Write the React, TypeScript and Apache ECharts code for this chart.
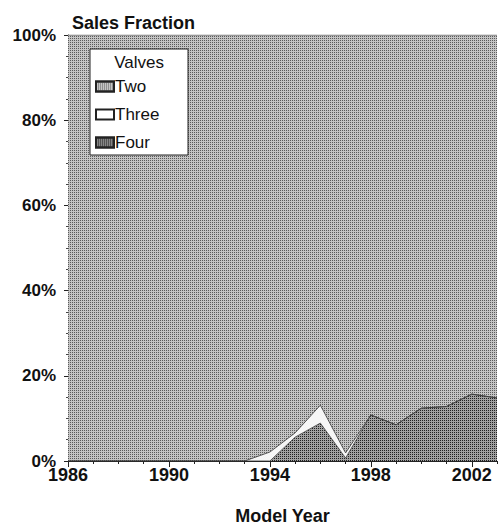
import React, { useEffect, useRef } from "react";
import * as echarts from "echarts";

const years = ["1986","1987","1988","1989","1990","1991","1992","1993","1994","1995","1996","1997","1998","1999","2000","2001","2002","2003"];
const fourValves = [0, 0, 0, 0, 0, 0, 0, 0, 0, 5.6, 8.9, 0.7, 10.8, 8.5, 12.4, 12.8, 15.7, 14.8];
const threeValves = [0, 0, 0, 0, 0, 0, 0, 0, 2.1, 1.0, 4.2, 1.2, 0, 0, 0, 0, 0, 0];
const twoValves = years.map((_, i) => +(100 - fourValves[i] - threeValves[i]).toFixed(1));
const yTicks = [0, 20, 40, 60, 80, 100];

const FONT = "'Liberation Sans', Arial, sans-serif";

export default function App() {
  const ref = useRef<HTMLDivElement>(null);
  useEffect(() => {
    document.body.style.margin = "0";
    if (!ref.current) return;
    const chart = echarts.init(ref.current, null, { renderer: "svg" });
    const lineStyle = { color: "#3a3a3a", width: 0.8 };
    const twoDecal = { symbol: "rect", symbolSize: 1, color: "#5a5a5a", dashArrayX: [1, 1], dashArrayY: [1, 1], rotation: 0 };
    const fourDecal = { symbol: "rect", symbolSize: 1, color: "#202020", dashArrayX: [1, 1], dashArrayY: [1, 1], rotation: 0 };
    chart.setOption({
      animation: false,
      backgroundColor: "#ffffff",
      textStyle: { fontFamily: FONT },
      title: {
        text: "Sales Fraction",
        left: 67,
        top: 9,
        textStyle: { fontFamily: FONT, fontWeight: "bold", fontSize: 18, color: "#111" },
      },
      grid: { left: 68, right: 2, top: 35, bottom: 64, containLabel: false, outerBoundsMode: "none" },
      legend: {
        data: ["Two", "Three", "Four"],
        orient: "vertical",
        left: 95,
        top: 78,
        padding: 0,
        z: 20,
        itemGap: 11,
        itemWidth: 18,
        itemHeight: 10,
        textStyle: { fontFamily: FONT, fontSize: 17, color: "#111", padding: [0, 0, 0, -4] },
        icon: "rect",
      },
      graphic: [
        {
          type: "rect",
          shape: { x: 90, y: 49, width: 98, height: 106 },
          style: { fill: "#ffffff", stroke: "#222", lineWidth: 1 },
          z: 10,
        },
        {
          type: "text",
          x: 139,
          y: 62,
          style: { text: "Valves", fontFamily: FONT, fontSize: 17, fill: "#111", textAlign: "center", textVerticalAlign: "middle" },
          z: 20,
        },
      ],
      xAxis: [
        {
          type: "category",
          data: years,
          boundaryGap: false,
          axisLine: { show: true, lineStyle: { color: "#222", width: 1 } },
          axisTick: { show: true, interval: 0, length: 3, lineStyle: { color: "#222" } },
          axisLabel: { interval: 3, margin: 7, lineHeight: 13, fontFamily: FONT, fontWeight: "bold", fontSize: 18, color: "#111" },
          splitLine: { show: false },
          name: "Model Year",
          nameLocation: "middle",
          nameGap: 47,
          nameTextStyle: { fontFamily: FONT, fontWeight: "bold", fontSize: 18, lineHeight: 16, color: "#111" },
        },
        {
          type: "category",
          data: years,
          boundaryGap: false,
          position: "bottom",
          axisLine: { show: false },
          axisTick: { show: true, interval: 3, length: 6, lineStyle: { color: "#222" } },
          axisLabel: { show: false },
          splitLine: { show: false },
        },
      ],
      yAxis: {
        type: "value",
        min: 0,
        max: 100,
        interval: 20,
        axisLine: { show: true, lineStyle: { color: "#222", width: 1 } },
        axisTick: { show: true, length: 4, lineStyle: { color: "#222" } },
        minorTick: { show: true, splitNumber: 4, length: 2, lineStyle: { color: "#444" } },
        splitLine: { show: false },
        axisLabel: {
          formatter: (v: number) => (yTicks.includes(v) ? v + "%" : ""),
          margin: 12,
          lineHeight: 10,
          fontFamily: FONT,
          fontWeight: "bold",
          fontSize: 17,
          color: "#111",
        },
      },
      series: [
        {
          name: "Four",
          type: "line",
          stack: "valves",
          data: fourValves,
          symbol: "none",
          lineStyle,
          areaStyle: { color: "#a0a0a0", opacity: 1, decal: fourDecal },
          itemStyle: { color: "#858585", borderColor: "#222", borderWidth: 1, decal: fourDecal },
        },
        {
          name: "Three",
          type: "line",
          stack: "valves",
          data: threeValves,
          symbol: "none",
          lineStyle,
          areaStyle: { color: "#f6f6f6", opacity: 1 },
          itemStyle: { color: "#ffffff", borderColor: "#222", borderWidth: 1 },
        },
        {
          name: "Two",
          type: "line",
          stack: "valves",
          data: twoValves,
          symbol: "none",
          lineStyle: { color: "#555", width: 0.8 },
          areaStyle: { color: "#c4c4c4", opacity: 1, decal: twoDecal },
          itemStyle: { color: "#c4c4c4", borderColor: "#222", borderWidth: 1, decal: twoDecal },
        },
      ],
    });
    return () => chart.dispose();
  }, []);
  return <div ref={ref} style={{ width: 499, height: 525 }} />;
}
